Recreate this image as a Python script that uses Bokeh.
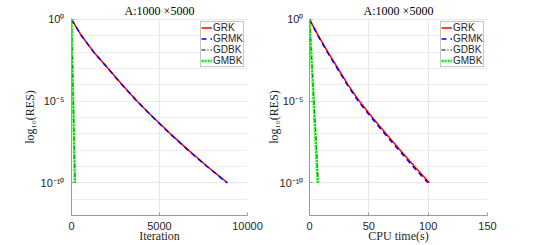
from bokeh.plotting import figure
from bokeh.layouts import row
from bokeh.models import Range1d, FixedTicker, CustomJSTickFormatter, Legend, LegendItem
from bokeh.embed import file_html
from bokeh.resources import INLINE

title_text = "A:1000 \u00d75000"
ylabel_text = "log\u2081\u2080(RES)"

# ---- left panel: residual vs iteration (values are log10 of RES) ----
grk_iter = [0, 570, 1270, 2080, 2880, 3730, 4650, 5620, 6640, 7720, 8864]
grk_exp = [0, -1, -2, -3, -4, -5, -6, -7, -8, -9, -10]
grmk_iter = [0, 565, 1265, 2075, 2870, 3720, 4640, 5605, 6620, 7700, 8830]
grmk_exp = [0, -1, -2, -3, -4, -5, -6, -7, -8, -9, -10]
gdbk_iter = [0, 40, 80, 120, 160, 205]
gdbk_exp = [0, -2, -4, -6, -8, -10]
gmbk_iter = [0, 38, 76, 114, 152, 190]
gmbk_exp = [0, -2, -4, -6, -8, -10]

# ---- right panel: residual vs CPU time (values are log10 of RES) ----
grk_time = [0, 7.5, 15.5, 24.0, 32.5, 42.0, 53.0, 64.5, 76.5, 88.5, 101.0]
grk_texp = [0, -1, -2, -3, -4, -5, -6, -7, -8, -9, -10]
grmk_time = [0, 7.2, 15.0, 23.4, 31.8, 41.1, 52.0, 63.4, 75.3, 87.2, 99.8]
grmk_texp = [0, -1, -2, -3, -4, -5, -6, -7, -8, -9, -10]
gdbk_time = [0, 1.5, 3.0, 4.5, 6.0, 7.3]
gdbk_texp = [0, -2, -4, -6, -8, -10]
gmbk_time = [0, 1.4, 2.8, 4.1, 5.5, 6.9]
gmbk_texp = [0, -2, -4, -6, -8, -10]

x_ticks_left = [0, 5000, 10000]
x_ticks_right = [0, 50, 100, 150]
y_major = [1e-10, 1e-5, 1]
y_minor_exp = [0, -1, -2, -3, -4, -5, -6, -7, -8, -9, -10, -11, -12]

SERIF = "Liberation Serif"
SANS = "Liberation Sans"

fmt_code = """
const sup = {"0":"\u2070","1":"\u00b9","2":"\u00b2","3":"\u00b3","4":"\u2074","5":"\u2075","6":"\u2076","7":"\u2077","8":"\u2078","9":"\u2079","-":"\u207b"};
const e = Math.round(Math.log10(tick)).toString();
let s = "";
for (const c of e) { s += sup[c]; }
return "10" + s;
"""


def pw(vals):
    return [10.0 ** v for v in vals]


def make_fig(xlabel, xr, xticks, width, mbl, mbr, y_std, y_lab_std):
    p = figure(width=width, height=245, output_backend="svg", toolbar_location=None,
               y_axis_type="log", x_range=Range1d(*xr), y_range=Range1d(1e-12, 10 ** 0.06),
               min_border_left=mbl, min_border_right=mbr, min_border_top=17, min_border_bottom=28,
               title=title_text)
    p.outline_line_color = None
    p.title.align = "center"
    p.title.text_font = SERIF
    p.title.text_font_style = "normal"
    p.title.text_font_size = "12px"
    p.title.text_color = "black"
    p.title.standoff = 2

    xt = FixedTicker(ticks=xticks)
    p.xaxis.ticker = xt
    p.xgrid.ticker = xt
    yt = FixedTicker(ticks=y_major, minor_ticks=[10.0 ** e for e in y_minor_exp])
    p.yaxis.ticker = yt
    p.ygrid.ticker = yt
    p.yaxis.formatter = CustomJSTickFormatter(code=fmt_code)

    for ax in (p.xaxis, p.yaxis):
        ax.axis_line_color = "#9a9a9a"
        ax.major_tick_line_color = "#9a9a9a"
        ax.major_tick_out = 0
        ax.major_tick_in = 3
        ax.minor_tick_line_color = None
        ax.major_label_text_font = SANS
        ax.major_label_text_font_size = "11px"
        ax.major_label_text_color = "#262626"
        ax.axis_label_text_font = SERIF
        ax.axis_label_text_font_style = "normal"
        ax.axis_label_text_font_size = "12px"
        ax.axis_label_text_color = "#262626"
    p.xaxis.axis_label = xlabel
    p.xaxis.major_label_standoff = 6
    p.xaxis.axis_label_standoff = -4
    p.yaxis.axis_label = ylabel_text
    p.yaxis.major_label_standoff = y_std
    p.yaxis.axis_label_standoff = y_lab_std

    p.xgrid.grid_line_color = "#e8e8e8"
    p.ygrid.grid_line_color = "#e8e8e8"
    p.ygrid.minor_grid_line_color = "#ededed"
    return p


def add_series(p, a, b, c, d):
    r1 = p.line(a[0], pw(a[1]), color="#ff0000", line_width=1.5)
    r2 = p.line(b[0], pw(b[1]), color="#0000ff", line_width=1.5, line_dash="5 4")
    r3 = p.line(c[0], pw(c[1]), color="black", line_width=1.2, line_dash="4 2 1 2")
    r4 = p.line(d[0], pw(d[1]), color="#00ee00", line_width=2.5, line_dash="2 1")
    leg = Legend(items=[LegendItem(label="GRK", renderers=[r1]),
                        LegendItem(label="GRMK", renderers=[r2]),
                        LegendItem(label="GDBK", renderers=[r3]),
                        LegendItem(label="GMBK", renderers=[r4])],
                 location="top_right")
    leg.border_line_color = "#8c8c8c"
    leg.background_fill_color = "white"
    leg.background_fill_alpha = 1
    leg.label_text_font = SANS
    leg.label_text_font_size = "10px"
    leg.label_text_color = "#262626"
    leg.glyph_width = 11
    leg.glyph_height = 11
    leg.label_height = 11
    leg.label_width = 10
    leg.label_standoff = 1
    leg.spacing = 0
    leg.padding = 0
    leg.margin = 3
    p.add_layout(leg)


p1 = make_fig("Iteration", (0, 10000), x_ticks_left, 263, 71, 16, 3, 1)
add_series(p1, (grk_iter, grk_exp), (grmk_iter, grmk_exp), (gdbk_iter, gdbk_exp), (gmbk_iter, gmbk_exp))

p2 = make_fig("CPU time(s)", (0, 150), x_ticks_right, 282, 46, 58, 2, -4)
add_series(p2, (grk_time, grk_texp), (grmk_time, grmk_texp), (gdbk_time, gdbk_texp), (gmbk_time, gmbk_texp))

layout = row(p1, p2)

open("out.html", "w").write(file_html(layout, INLINE))
